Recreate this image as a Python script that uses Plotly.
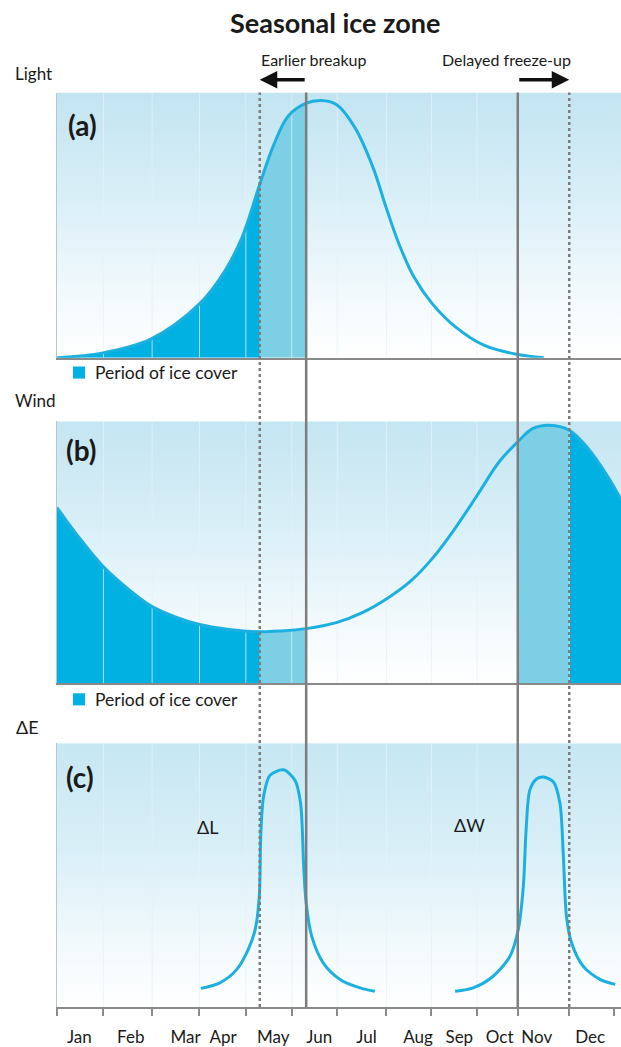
import plotly.graph_objects as go

# ── Data (x in months from 1 Jan, y normalised 0..1 within each panel) ───────
MONTHS = ["Jan", "Feb", "Mar", "Apr", "May", "Jun",
          "Jul", "Aug", "Sep", "Oct", "Nov", "Dec"]
MONTH_LABEL_POS = [0.48, 1.59, 2.77, 3.58, 4.66, 5.65,
                   6.67, 7.78, 8.67, 9.54, 10.34, 11.49]
MONTH_BOUNDS = [0, 1.0, 2.05, 3.07, 4.07, 5.06, 6.04, 7.10, 8.07, 9.05, 9.93, 11.04, 12.0]

EARLY_BREAKUP = 4.37
BREAKUP = 5.37
FREEZE = 9.93
LATE_FREEZE = 11.04

LIGHT_X = [0.0, 0.99, 2.03, 3.07, 3.62, 3.99, 4.37, 4.66, 4.98, 5.37, 5.69,
           6.02, 6.42, 6.81, 7.09, 7.37, 7.69, 8.09, 8.58, 9.21, 9.93, 10.49]
LIGHT_Y = [0.0, 0.018, 0.071, 0.203, 0.328, 0.455, 0.654, 0.798, 0.911, 0.960, 0.970,
           0.955, 0.868, 0.718, 0.568, 0.429, 0.305, 0.203, 0.117, 0.046, 0.012, 0.0]

WIND_X = [0.0, 0.43, 0.99, 1.55, 2.03, 2.59, 3.07, 3.71, 4.37, 4.82, 5.37, 6.02,
          6.58, 7.14, 7.62, 8.10, 8.58, 9.06, 9.53, 9.93, 10.25, 10.61, 11.04,
          11.45, 11.85, 12.16]
WIND_Y = [0.671, 0.567, 0.447, 0.358, 0.295, 0.251, 0.225, 0.206, 0.197, 0.200, 0.209, 0.232,
          0.270, 0.327, 0.390, 0.479, 0.592, 0.719, 0.846, 0.922, 0.972, 0.985, 0.966,
          0.896, 0.795, 0.700]

DL_X = [3.10, 3.51, 3.87, 4.12, 4.27, 4.36, 4.39, 4.45, 4.59, 4.88, 5.13, 5.25,
        5.32, 5.37, 5.49, 5.74, 6.10, 6.53, 6.85]
DL_Y = [0.071, 0.092, 0.142, 0.218, 0.293, 0.419, 0.645, 0.796, 0.878, 0.899, 0.859, 0.771,
        0.520, 0.394, 0.268, 0.167, 0.105, 0.073, 0.060]

DW_X = [8.58, 8.97, 9.40, 9.76, 9.94, 10.05, 10.11, 10.19, 10.34, 10.48, 10.70, 10.84,
        10.91, 10.98, 11.09, 11.34, 11.70, 12.03]
DW_Y = [0.060, 0.073, 0.117, 0.192, 0.293, 0.457, 0.671, 0.822, 0.865, 0.872, 0.853, 0.771,
        0.582, 0.343, 0.243, 0.155, 0.105, 0.086]

# ── Style ─────────────────────────────────────────────────────────────────────
CURVE = "#1cb0e0"
ICE = "#00b1e2"
ICE_SHIFT = "#7ccfe5"
GRID = "rgba(228,242,248,0.75)"
LINE_GREY = "#7d7d7d"
FONT = "Lato, 'Open Sans', sans-serif"
X_RANGE = [0, 12.155]
X_DOMAIN = [0.0918, 1.0]
DOMAINS = {"a": [0.6571, 0.9112], "b": [0.3448, 0.5960], "c": [0.0344, 0.2875]}

fig = go.Figure()


def sub(xs, ys, lo, hi):
    pts = [(x, y) for x, y in zip(xs, ys) if lo - 1e-9 <= x <= hi + 1e-9]
    return [p[0] for p in pts], [p[1] for p in pts]


def background(xa, ya, top):
    fig.add_trace(go.Scatter(
        x=[X_RANGE[0], X_RANGE[1], X_RANGE[1], X_RANGE[0], X_RANGE[0]],
        y=[0, 0, 1, 1, 0], xaxis=xa, yaxis=ya,
        mode="none", fill="toself", hoverinfo="skip",
        fillgradient=dict(type="vertical", colorscale=[
            [0, "#ffffff"], [0.25, "#f1f9fc"], [0.6, "#d9eff7"], [1, top]]),
    ))


def band(xs, ys, lo, hi, color, xa, ya):
    bx, by = sub(xs, ys, lo, hi)
    fig.add_trace(go.Scatter(
        x=bx, y=by, xaxis=xa, yaxis=ya, mode="none",
        fill="tozeroy", fillcolor=color, line=dict(shape="spline"),
        hoverinfo="skip",
    ))


def grid(xa, ya):
    # faint month separators, over the fills but under the curves
    gx, gy = [], []
    for b in MONTH_BOUNDS[1:-1]:
        gx += [b, b, None]
        gy += [0, 1, None]
    fig.add_trace(go.Scatter(x=gx, y=gy, xaxis=xa, yaxis=ya, mode="lines",
                             line=dict(color=GRID, width=1), hoverinfo="skip"))


def curve(xs, ys, xa, ya, smooth=1.0):
    fig.add_trace(go.Scatter(
        x=xs, y=ys, xaxis=xa, yaxis=ya, mode="lines",
        line=dict(color=CURVE, width=3, shape="spline", smoothing=smooth),
        hoverinfo="skip",
    ))


# panel (a) light
background("x", "y", "#c2e4f1")
band(LIGHT_X, LIGHT_Y, 0, EARLY_BREAKUP, ICE, "x", "y")
band(LIGHT_X, LIGHT_Y, EARLY_BREAKUP, BREAKUP, ICE_SHIFT, "x", "y")
grid("x", "y")
curve(LIGHT_X, LIGHT_Y, "x", "y")

# panel (b) wind
background("x2", "y2", "#c4e5f2")
band(WIND_X, WIND_Y, 0, EARLY_BREAKUP, ICE, "x2", "y2")
band(WIND_X, WIND_Y, EARLY_BREAKUP, BREAKUP, ICE_SHIFT, "x2", "y2")
band(WIND_X, WIND_Y, FREEZE, LATE_FREEZE, ICE_SHIFT, "x2", "y2")
band(WIND_X, WIND_Y, LATE_FREEZE, WIND_X[-1], ICE, "x2", "y2")
grid("x2", "y2")
curve(WIND_X, WIND_Y, "x2", "y2")

# panel (c) energy difference
background("x3", "y3", "#c6e7f3")
grid("x3", "y3")
curve(DL_X, DL_Y, "x3", "y3", 0.8)
curve(DW_X, DW_Y, "x3", "y3", 0.8)

# ── Axes ──────────────────────────────────────────────────────────────────────
ax_common = dict(range=X_RANGE, domain=X_DOMAIN, showgrid=False, zeroline=False,
                 showline=True, linecolor="#8a8a8a", linewidth=2, fixedrange=True)
ay_common = dict(range=[0, 1], showgrid=False, zeroline=False, showticklabels=False,
                 showline=True, linecolor="#b9c7cc", linewidth=1, ticks="", fixedrange=True)

fig.update_layout(
    xaxis=dict(**ax_common, anchor="y", showticklabels=False, ticks=""),
    yaxis=dict(**ay_common, anchor="x", domain=DOMAINS["a"]),
    xaxis2=dict(**ax_common, anchor="y2", showticklabels=False, ticks=""),
    yaxis2=dict(**ay_common, anchor="x2", domain=DOMAINS["b"]),
    xaxis3=dict(**ax_common, anchor="y3", tickmode="array",
                tickvals=MONTH_LABEL_POS, ticktext=MONTHS, ticks="outside",
                ticklen=7, tickcolor="rgba(0,0,0,0)", ticklabelstandoff=6,
                tickfont=dict(family=FONT, size=17, color="#1a1a1a"),
                minor=dict(tickmode="array", tickvals=MONTH_BOUNDS, ticks="outside",
                           ticklen=7, tickwidth=2, tickcolor="#8a8a8a", showgrid=False)),
    yaxis3=dict(**ay_common, anchor="x3", domain=DOMAINS["c"]),
)

# ── Shapes: breakup / freeze-up lines and legend squares ─────────────────────
shapes = []
for pos, dash in [(EARLY_BREAKUP, "dot"), (BREAKUP, "solid"),
                  (FREEZE, "solid"), (LATE_FREEZE, "dot")]:
    shapes.append(dict(type="line", xref="x", yref="paper", x0=pos, x1=pos,
                       y0=DOMAINS["c"][0], y1=DOMAINS["a"][1],
                       line=dict(color=LINE_GREY, width=2.5, dash=dash), layer="above"))

for yc in [0.6428, 0.3295]:
    shapes.append(dict(type="rect", xref="paper", yref="paper",
                       x0=0.1176, x1=0.1369, y0=yc - 0.0058, y1=yc + 0.0058,
                       fillcolor=ICE, line=dict(width=0)))
fig.update_layout(shapes=shapes)

# ── Text ──────────────────────────────────────────────────────────────────────
def txt(text, x, y, size=15, bold=False, xanchor="center", xref="paper", yref="paper"):
    fig.add_annotation(text=f"<b>{text}</b>" if bold else text, x=x, y=y,
                       xref=xref, yref=yref, showarrow=False, xanchor=xanchor,
                       yanchor="middle", font=dict(family=FONT, size=size, color="#1a1a1a"))


txt("Seasonal ice zone", 0.539, 0.978, size=27, bold=True)
txt("Earlier breakup", 0.5056, 0.9427, size=16)
txt("Delayed freeze-up", 0.8164, 0.9427, size=16)
txt("Light", 0.0547, 0.9293, size=17)
txt("Wind", 0.0573, 0.616, size=17)
txt("ΔE", 0.0435, 0.3028, size=18)
txt("(a)", 0.1329, 0.8797, size=28, bold=True)
txt("(b)", 0.1312, 0.5683, size=28, bold=True)
txt("(c)", 0.1288, 0.2550, size=28, bold=True)
txt("Period of ice cover", 0.1498, 0.6428, size=17.5, xanchor="left")
txt("Period of ice cover", 0.1498, 0.3295, size=17.5, xanchor="left")
txt("ΔL", 3.25, 0.683, size=18, xref="x3", yref="y3")
txt("ΔW", 8.9, 0.69, size=18, xref="x3", yref="y3")

# arrows for earlier breakup / delayed freeze-up
for tip, tail in [(EARLY_BREAKUP, BREAKUP), (LATE_FREEZE, FREEZE)]:
    fig.add_annotation(x=tip, y=0.9235, xref="x", yref="paper",
                       ax=tail, ay=0, axref="x", ayref="pixel", text="",
                       showarrow=True, arrowhead=2, arrowsize=1.0, arrowwidth=3.5,
                       arrowcolor="#111111", standoff=0, startstandoff=0)

fig.update_layout(
    width=621, height=1047,
    margin=dict(l=0, r=0, t=0, b=0),
    paper_bgcolor="white", plot_bgcolor="white",
    showlegend=False,
    font=dict(family=FONT),
)

fig.write_html("out.html", config={"displayModeBar": False},
               post_script="document.body.style.margin='0';")
